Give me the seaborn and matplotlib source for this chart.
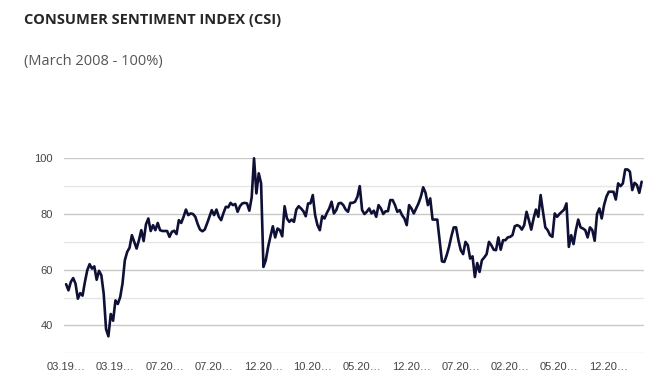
import numpy as np
import matplotlib.pyplot as plt
import seaborn as sns
from matplotlib.ticker import MultipleLocator

title = "CONSUMER SENTIMENT INDEX (CSI)"
subtitle = "(March 2008 - 100%)"

csi = [
    54.8, 52.6, 55.6, 57, 55, 49.6, 51.6, 50.7, 55.6, 59.8,
    62, 60.4, 61.2, 56.4, 59.6, 58, 51.4, 38.7, 36.1, 44.1,
    41.7, 49, 47.7, 50.1, 55, 63.4, 66.4, 67.9, 72.4, 70,
    67.6, 70.6, 74.2, 70.3, 76.3, 78.4, 73.9, 76, 74.2, 76.8,
    74.2,
    73.9, 73.9, 73.9, 71.8, 73.6, 74, 72.8, 77.8, 76.8, 79,
    81.6, 79.6, 80.2, 80, 79, 76.4, 74.4, 73.8, 74.4, 76.6,
    79, 81.4, 79.6, 81.6, 79, 77.8, 80.4, 82.6, 82.4, 84,
    83.2, 83.6, 80.8, 82.8, 83.8, 84, 83.8, 81.2, 86,
    100, 87.4, 94.6, 91, 61, 63.4, 68.2, 72, 75.6, 71.6,
    74.8, 74.2, 72, 82.8, 78.4, 77.2, 78, 77.2, 81.6, 82.8,
    82, 81, 79.2, 83.8, 83.8, 86.8, 79.6, 76, 74.2, 79.2,
    78.4, 80.4, 82, 84.4, 80.2, 81.4, 83.8, 84, 83.2, 81.6,
    80.8, 84, 84, 84.4, 86.2, 90, 81.4, 80, 80.8, 82,
    80.2, 81.2, 79, 83.2, 82, 80, 81, 81, 85, 85,
    83.2, 80.8, 81.4, 79.6, 78.4, 76, 83.2, 82, 80.2, 82,
    83.8, 86.2, 89.6, 87.6, 83.2, 85.6, 78, 78, 78, 70.5,
    63,
    62.8, 65.2, 68.2, 72, 75.2, 75.2, 70.6, 67, 65.6, 70,
    68.8, 64, 64.8, 57.4, 62.4, 59.2, 63.4, 64.4, 65.6, 70,
    68.8, 67.2, 67, 71.6, 67.2, 70.6, 70.6, 71.6, 71.8, 72.4,
    75.6, 76, 75.6, 74.4, 76, 80.8, 77.8, 74.4, 78.4, 81.6,
    79, 86.8, 80.8, 75.2, 74.2, 72.4, 71.8, 80.2, 79, 80,
    80.8, 81.6, 83.8, 68.2, 72.4, 69.2, 74.2, 78, 75.2, 74.8,
    74.2, 71.6, 75.2, 74.2, 70.4, 80, 82, 78.4, 83.2, 86.2,
    88, 88, 88, 85.2, 91, 90, 91, 96, 96, 95.2,
    88.6, 91.2, 90.4, 87.6, 91.6,
]

tick_labels = ["03.19…", "03.19…", "07.20…", "07.20…", "12.20…", "10.20…",
               "05.20…", "12.20…", "07.20…", "02.20…", "05.20…", "12.20…"]
tick_step = 21

sns.set_theme(style="white")
plt.rcParams["font.family"] = ["Open Sans", "DejaVu Sans"]

fig = plt.figure(figsize=(6.57, 3.83), dpi=100)
ax = fig.add_axes([64 / 657, 1 - 353.3 / 383, 580 / 657, 195 / 383])

x = np.arange(len(csi))
sns.lineplot(x=x, y=csi, ax=ax, color="#0f1035", linewidth=1.9, clip_on=False)

ax.set_xlim(-0.9, len(csi))
ax.set_ylim(30, 100)
ax.set_yticks([40, 60, 80, 100])
ax.yaxis.set_minor_locator(MultipleLocator(10))
ax.grid(axis="y", which="major", color="#c8c8c8", linewidth=1)
ax.grid(axis="y", which="minor", color="#e6e6e6", linewidth=1)
ax.set_axisbelow(True)

ax.set_xticks(x[::tick_step])
ax.set_xticklabels(tick_labels)
ax.tick_params(which="both", length=0, labelsize=8, colors="#444444")
ax.tick_params(axis="y", pad=8)
ax.tick_params(axis="x", pad=6)
for lab in ax.get_xticklabels() + ax.get_yticklabels():
    lab.set_family(["Liberation Sans", "DejaVu Sans"])
ax.set_xlabel("")
ax.set_ylabel("")
for s in ax.spines.values():
    s.set_visible(False)

fig.text(24 / 657, 1 - 20 / 383, title, fontweight="bold", fontsize=10.5, va="center")
fig.text(24 / 657, 1 - 62 / 383, subtitle, color="#555555", fontsize=10.5, va="center")

fig.savefig("out.png", dpi=100)
